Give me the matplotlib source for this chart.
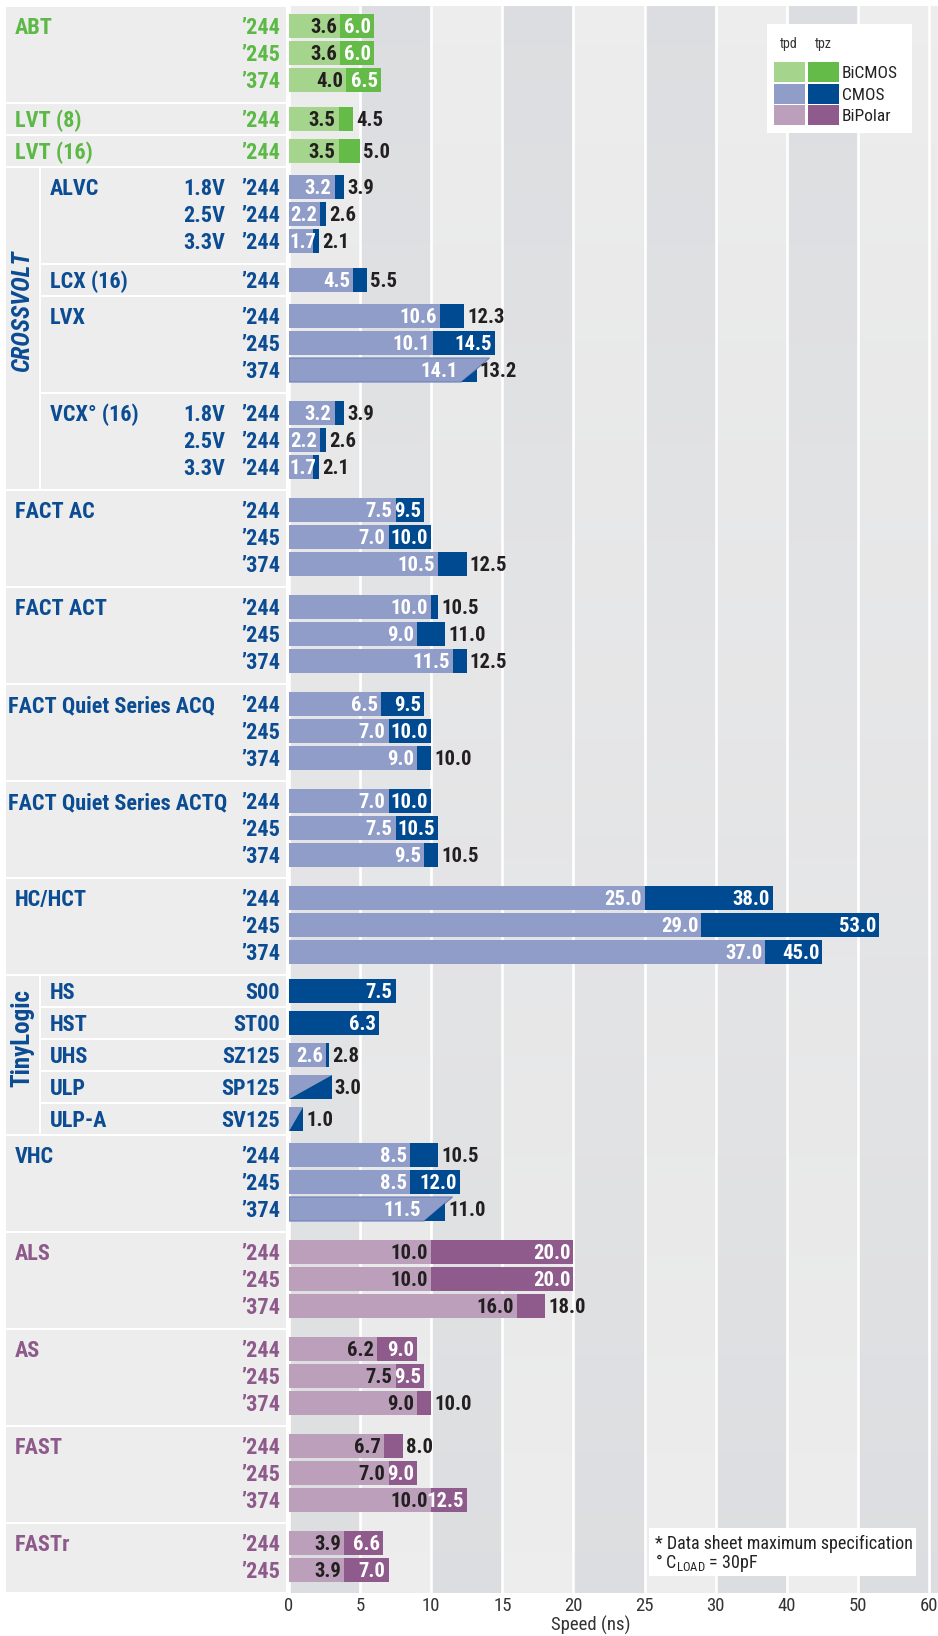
import numpy as np
import matplotlib
matplotlib.use("Agg")
import matplotlib.pyplot as plt
from matplotlib import font_manager as fm
from matplotlib.patches import Rectangle, Polygon

# pick the narrowest sans that is installed
names = {f.name for f in fm.fontManager.ttflist}
FONT, STRETCH = "Roboto", "normal"
for cand in ["Futura", "Roboto Condensed", "Liberation Sans Narrow", "Noto Sans Condensed",
             "Open Sans Condensed", "Arial Narrow"]:
    if cand in names:
        FONT = cand
        break
else:
    for f in fm.fontManager.ttflist:
        if f.name in ("Noto Sans", "Open Sans", "DejaVu Sans") and f.stretch == "condensed":
            FONT, STRETCH = f.name, "condensed"
            break
plt.rcParams['font.family'] = [FONT, 'DejaVu Sans']
plt.rcParams['font.stretch'] = STRETCH

# ---- data ----
Q = "\u2019"
groups = ["ABT", "LVT (8)", "LVT (16)", "ALVC", "LCX (16)", "LVX", "VCX\u00b0 (16)",
          "FACT AC", "FACT ACT", "FACT Quiet Series ACQ", "FACT Quiet Series ACTQ",
          "HC/HCT", "HS", "HST", "UHS", "ULP", "ULP-A", "VHC",
          "ALS", "AS", "FAST", "FASTr"]
tech = ["BiCMOS"] * 3 + ["CMOS"] * 15 + ["BiPolar"] * 4
parent = [None] * 3 + ["CROSSVOLT"] * 4 + [None] * 5 + ["TinyLogic"] * 5 + [None] * 5
trio = [Q + "244", Q + "245", Q + "374"]
parts = [trio, [Q + "244"], [Q + "244"], [Q + "244"] * 3, [Q + "244"], trio, [Q + "244"] * 3,
         trio, trio, trio, trio, trio,
         ["S00"], ["ST00"], ["SZ125"], ["SP125"], ["SV125"],
         trio, trio, trio, trio, trio[:2]]
volts = [None] * 22
volts[3] = ["1.8V", "2.5V", "3.3V"]
volts[6] = ["1.8V", "2.5V", "3.3V"]
tpd = [[3.6, 3.6, 4.0], [3.5], [3.5], [3.2, 2.2, 1.7], [4.5], [10.6, 10.1, 14.1],
       [3.2, 2.2, 1.7], [7.5, 7.0, 10.5], [10.0, 9.0, 11.5], [6.5, 7.0, 9.0],
       [7.0, 7.5, 9.5], [25.0, 29.0, 37.0], [None], [None], [2.6], [3.0], [1.0],
       [8.5, 8.5, 11.5], [10.0, 10.0, 16.0], [6.2, 7.5, 9.0], [6.7, 7.0, 10.0], [3.9, 3.9]]
tpz = [[6.0, 6.0, 6.5], [4.5], [5.0], [3.9, 2.6, 2.1], [5.5], [12.3, 14.5, 13.2],
       [3.9, 2.6, 2.1], [9.5, 10.0, 12.5], [10.5, 11.0, 12.5], [9.5, 10.0, 10.0],
       [10.0, 10.5, 10.5], [38.0, 53.0, 45.0], [7.5], [6.3], [2.8], [3.0], [1.0],
       [10.5, 12.0, 11.0], [20.0, 20.0, 18.0], [9.0, 9.5, 10.0], [8.0, 9.0, 12.5], [6.6, 7.0]]
ticks = [0, 5, 10, 15, 20, 25, 30, 40, 50, 60]
tech_names = ["BiCMOS", "CMOS", "BiPolar"]

# ---- styles ----
light = {"BiCMOS": "#a5d48c", "CMOS": "#8f9dc8", "BiPolar": "#bb9fbb"}
dark = {"BiCMOS": "#65bb47", "CMOS": "#004a91", "BiPolar": "#8e5b8c"}
label_col = {"BiCMOS": "#5cb946", "CMOS": "#0b4c92", "BiPolar": "#8e5a8b"}
TXT = "#231f20"
BAND_L = np.array([0.929, 0.929, 0.929])
BAND_D = np.array([0.863, 0.867, 0.878])
CELL = "#ededed"

W, H = 938, 1636
TOP = 6
ROW, BAR_H = 27, 24
X0, X60 = 289, 929
PX_UNIT = (X60 - X0) / 45


def fwd(x):
    x = np.asarray(x, dtype=float)
    return np.where(x <= 30, x, 30 + (x - 30) / 2)


def inv(x):
    x = np.asarray(x, dtype=float)
    return np.where(x <= 30, x, 30 + (x - 30) * 2)


# layout of the rows (in pixels from the top of the figure)
tops, heights, centers = [], [], []
y = TOP
for g in range(len(groups)):
    n = len(tpz[g])
    h = n * ROW + (16 if n > 1 else 5)
    first = 20 if n > 1 else h / 2
    tops.append(y)
    heights.append(h)
    centers.append([y + first + i * ROW for i in range(n)])
    y += h
BOTTOM = y

fig = plt.figure(figsize=(W / 100, H / 100), dpi=100)
fig.patch.set_facecolor("white")
renderer = fig.canvas.get_renderer()


def text_width(s, size, weight):
    t = fig.text(0, 0, s, fontsize=size, fontweight=weight)
    w = t.get_window_extent(renderer).width
    t.remove()
    return w


# font sizes fitted to the widths seen in the reference
LAB_SIZE = min(16.0, 16.0 * 224 / text_width("FACT Quiet Series ACTQ", 16, "bold"))
VAL_SIZE = min(15.0, 12.0 * 37 / text_width("10.0", 12, "bold"))
TICK_SIZE = 13.5

ax = fig.add_axes([X0 / W, 1 - BOTTOM / H, (W - X0) / W, (BOTTOM - TOP) / H])
ax.set_xscale("function", functions=(fwd, inv))
x_right = float(inv(45 + (W - X60) / PX_UNIT))
ax.set_xlim(0, x_right)
ax.set_ylim(BOTTOM, TOP)
for s in ax.spines.values():
    s.set_visible(False)
ax.set_facecolor("white")
ax.set_yticks([])
ax.set_xticks(ticks)
ax.set_xticklabels([str(t) for t in ticks])
ax.tick_params(axis="x", length=0, labelsize=TICK_SIZE, labelcolor="#333333", pad=3)

# background bands with a vertical gradient
edges = ticks[:-1] + [x_right]
bandsA = [(edges[i], edges[i + 1] - edges[i]) for i in range(0, len(edges) - 1, 2)]
bandsB = [(edges[i], edges[i + 1] - edges[i]) for i in range(1, len(edges) - 1, 2)]
N = 80
hs = (BOTTOM - TOP) / N
for k in range(N):
    t = (k + 0.5) / N
    ca = BAND_L * (1 - t) + BAND_D * t
    cb = BAND_D * (1 - t) + BAND_L * t
    ys = TOP + k * hs
    ax.broken_barh(bandsA, (ys, hs + 0.5), facecolors=[ca], edgecolors=[ca], linewidth=0.3, zorder=0)
    ax.broken_barh(bandsB, (ys, hs + 0.5), facecolors=[cb], edgecolors=[cb], linewidth=0.3, zorder=0)
for t in ticks:
    ax.axvline(t, color="white", lw=1.9, zorder=1)


def val(x, yc, s, color, ha, dx):
    ax.annotate(s, (x, yc), xytext=(dx, -0.355 * VAL_SIZE), textcoords="offset points",
                ha=ha, va="baseline", fontsize=VAL_SIZE, fontweight="bold", color=color,
                zorder=5, annotation_clip=False)


def val_in(x, yc, s, color):
    # right-aligned inside the bar; if it would spill past the bar start, pin it there
    if text_width(s, VAL_SIZE, "bold") + 3 > float(fwd(x)) * PX_UNIT:
        val(0, yc, s, color, "left", 0.4)
    else:
        val(x, yc, s, color, "right", -PAD)


PAD = 2.2
SLANT = 2.0
for g in range(len(groups)):
    lc, dc = light[tech[g]], dark[tech[g]]
    dcol = "white" if tech[g] == "CMOS" else TXT
    for i, yc in enumerate(centers[g]):
        d, z = tpd[g][i], tpz[g][i]
        top, bot = yc - BAR_H / 2, yc + BAR_H / 2
        zs = f"{z:.1f}"
        if d is None:
            ax.barh(yc, z, height=BAR_H, color=dc, zorder=3)
            val(z, yc, zs, "white", "right", -PAD)
        elif d < z:
            ax.barh(yc, d, height=BAR_H, color=lc, zorder=3)
            ax.barh(yc, z - d, left=d, height=BAR_H, color=dc, zorder=3)
            val_in(d, yc, f"{d:.1f}", dcol)
            if float(fwd(z) - fwd(d)) >= 0.6 * len(zs):
                val(z, yc, zs, "white", "right", -PAD)
            else:
                val(z, yc, zs, TXT, "left", PAD)
        elif d == z:
            ax.add_patch(Polygon([(0, bot), (0, top), (z, top)], closed=True, fc=lc, ec="none", zorder=3))
            ax.add_patch(Polygon([(0, bot), (z, bot), (z, top)], closed=True, fc=dc, ec="none", zorder=3))
            val(z, yc, zs, TXT, "left", PAD)
        else:
            xb = d - SLANT
            ax.add_patch(Polygon([(0, bot), (0, top), (d, top), (xb, bot)], closed=True,
                                 fc=lc, ec="#6b80bb", lw=0.8, zorder=3))
            frac = (z - xb) / SLANT
            ax.add_patch(Polygon([(xb, bot), (z, bot), (z, bot - frac * BAR_H)], closed=True,
                                 fc=dc, ec="none", zorder=4))
            val(xb, yc, f"{d:.1f}", dcol, "right", -PAD)
            val(z, yc, zs, TXT, "left", PAD)

# ---- overlay in pixel coordinates: label panel, legend, notes ----
ov = fig.add_axes([0, 0, 1, 1], zorder=5)
ov.set_xlim(0, W)
ov.set_ylim(H, 0)
ov.axis("off")


def lab(x, yc, s, color, ha="left", size=None, weight="bold"):
    size = LAB_SIZE if size is None else size
    ov.annotate(s, (x, yc), xytext=(0, -0.355 * size), textcoords="offset points",
                ha=ha, va="baseline", fontsize=size, fontweight=weight, color=color)


PANEL_L, PANEL_R, SUB_L = 6, 286, 41
for g in range(len(groups)):
    x0 = SUB_L if parent[g] else PANEL_L
    ov.add_patch(Rectangle((x0, tops[g] + 1), PANEL_R - x0, heights[g] - 2, fc=CELL, ec="none"))
    col = label_col[tech[g]]
    yc0 = centers[g][0]
    if parent[g]:
        nx = 50
    else:
        nx = 8 if len(groups[g]) > 15 else 15
    lab(nx, yc0, groups[g], col)
    for i, yc in enumerate(centers[g]):
        lab(280, yc, parts[g][i], col, ha="right")
        if volts[g]:
            lab(225, yc, volts[g][i], col, ha="right")

for name in ["CROSSVOLT", "TinyLogic"]:
    idx = [g for g in range(len(groups)) if parent[g] == name]
    y0 = tops[idx[0]]
    y1 = tops[idx[-1]] + heights[idx[-1]]
    ov.add_patch(Rectangle((PANEL_L, y0 + 1), SUB_L - 2 - PANEL_L, y1 - y0 - 2, fc=CELL, ec="none"))
    ov.text(22, (y0 + y1) / 2 - 17, name, rotation=90, ha="center", va="center",
            rotation_mode="anchor", fontsize=18, fontweight="bold",
            fontstyle="italic" if name == "CROSSVOLT" else "normal",
            color=label_col["CMOS"])

# legend
ov.add_patch(Rectangle((767, 24), 145, 109, fc="white", ec="none"))
ov.text(789, 44, "tpd", ha="center", va="center", fontsize=10, color="#333333")
ov.text(823, 44, "tpz", ha="center", va="center", fontsize=10, color="#333333")
for r, tn in enumerate(tech_names):
    ys = 62 + r * 21.5
    ov.add_patch(Rectangle((774, ys), 31, 20, fc=light[tn], ec="none"))
    ov.add_patch(Rectangle((808, ys), 31, 20, fc=dark[tn], ec="none"))
    lab(842, ys + 10, tn, "#222222", size=12.5, weight="normal")

# footnote box
ov.add_patch(Rectangle((649, 1528), 267, 48, fc="white", ec="none"))
lab(655, 1543, "* Data sheet maximum specification", "#222222", size=13, weight="normal")
lab(655, 1562, "\u00b0 C$_{\\mathregular{LOAD}}$ = 30pF", "#222222", size=13, weight="normal")

ov.text(591, 1625, "Speed (ns)", ha="center", va="center", fontsize=TICK_SIZE, color="#333333")

fig.savefig("out.png", dpi=100)
